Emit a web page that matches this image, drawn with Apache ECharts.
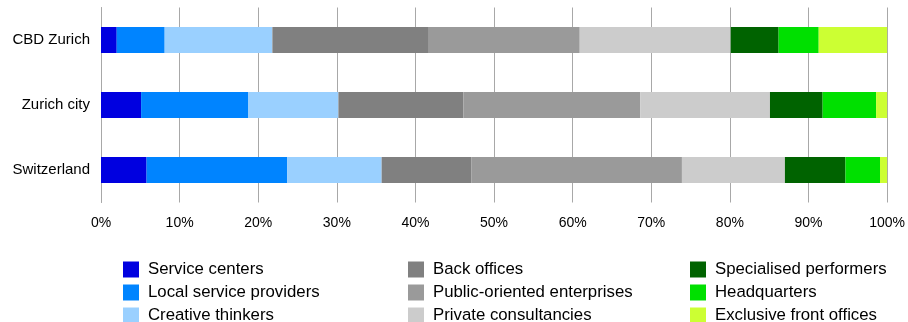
<!DOCTYPE html>
<html>
<head>
<meta charset="utf-8">
<script src="https://cdn.jsdelivr.net/npm/echarts@6/dist/echarts.min.js"></script>
<style>
  * { margin: 0; padding: 0; }
  body { background: #fff; }
</style>
</head>
<body>
<div id="main" style="width: 908px; height: 322px;"></div>
<script>
  // categories (top to bottom)
  var regions = ['CBD Zurich', 'Zurich city', 'Switzerland']
  var xTicks = [0, 10, 20, 30, 40, 50, 60, 70, 80, 90, 100]

  // shares in % per region
  var serviceCenters = [2.0, 5.1, 5.8]
  var localProviders = [6.1, 13.6, 17.9]
  var creativeThinkers = [13.7, 11.5, 12.0]
  var backOffices = [19.9, 15.9, 11.4]
  var publicEnterprises = [19.2, 22.5, 26.8]
  var privateConsult = [19.2, 16.5, 13.1]
  var specialised = [6.1, 6.7, 7.7]
  var headquarters = [5.1, 6.8, 4.4]
  var exclusiveFront = [8.7, 1.4, 0.9]

  var seriesDefs = [
    ['Service centers', serviceCenters, '#0000e0'],
    ['Local service providers', localProviders, '#0084ff'],
    ['Creative thinkers', creativeThinkers, '#9ad0ff'],
    ['Back offices', backOffices, '#808080'],
    ['Public-oriented enterprises', publicEnterprises, '#9a9a9a'],
    ['Private consultancies', privateConsult, '#cccccc'],
    ['Specialised performers', specialised, '#006300'],
    ['Headquarters', headquarters, '#00e000'],
    ['Exclusive front offices', exclusiveFront, '#ccff33']
  ]

  var font = 'Liberation Sans, Arial, sans-serif'

  function legendCol(names, left) {
    return {
      orient: 'vertical',
      left: left,
      top: 261,
      height: 70,
      padding: 0,
      itemWidth: 16,
      itemHeight: 16,
      itemGap: 6,
      icon: 'rect',
      selectedMode: false,
      data: names,
      textStyle: {
        fontFamily: font,
        fontSize: 16.8,
        color: '#000',
        padding: [0, 0, 0, 4]
      }
    }
  }

  var names = seriesDefs.map(function (s) { return s[0] })

  var chart = echarts.init(document.getElementById('main'))
  chart.setOption({
    animation: false,
    color: seriesDefs.map(function (s) { return s[2] }),
    grid: { left: 101, right: 19, top: 7.5, height: 195 },
    legend: [
      legendCol(names.slice(0, 3), 123),
      legendCol(names.slice(3, 6), 408),
      legendCol(names.slice(6, 9), 690)
    ],
    xAxis: {
      type: 'value',
      min: xTicks[0],
      max: xTicks[xTicks.length - 1],
      interval: 10,
      axisLine: { show: false },
      axisTick: { show: false },
      splitLine: { lineStyle: { color: '#a8a8a8', width: 1 } },
      axisLabel: {
        margin: 14,
        formatter: '{value}%',
        fontFamily: font,
        fontSize: 14,
        color: '#000'
      }
    },
    yAxis: {
      type: 'category',
      inverse: true,
      data: regions,
      axisLine: { lineStyle: { color: '#a8a8a8' } },
      axisTick: { show: false },
      axisLabel: { margin: 11, fontFamily: font, fontSize: 15, color: '#000' }
    },
    series: seriesDefs.map(function (s) {
      return {
        name: s[0],
        type: 'bar',
        stack: 'total',
        barWidth: 26,
        data: s[1]
      }
    })
  })
</script>
</body>
</html>
